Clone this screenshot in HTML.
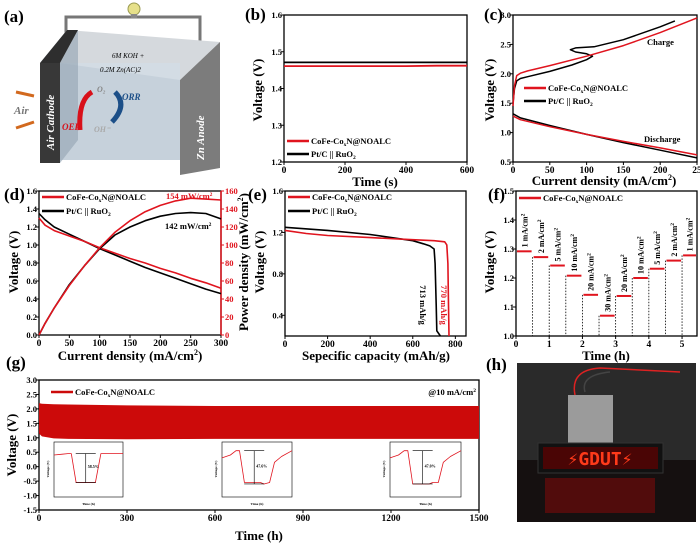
<!DOCTYPE html>
<html><head><meta charset="utf-8"><style>
html,body{margin:0;padding:0;background:#fff;}
svg{display:block;font-family:"Liberation Serif",serif;font-weight:bold;}
</style></head><body>
<svg id="fig" width="700" height="545" viewBox="0 0 700 545" xmlns="http://www.w3.org/2000/svg">
<g id="panelA">
  <text x="4" y="22" font-size="17">(a)</text>
  <polyline points="66,60 66,17 200,17 200,55" fill="none" stroke="#777" stroke-width="3"/>
  <circle cx="134" cy="9" r="6" fill="#e6e08a" stroke="#9a9a50"/>
  <rect x="131" y="14" width="6" height="4" fill="#888"/>
  <polygon points="40,63 67,30 220,42 180,80" fill="#d5d9dd"/>
  <rect x="60" y="63" width="120" height="97" fill="#d3dce4"/>
  <polygon points="60,63 180,80 180,160 60,160" fill="#c6d1db"/>
  <polygon points="40,63 67,30 78,30 60,63" fill="#2e2e2e"/>
  <polygon points="60,63 78,30 78,140 60,163" fill="#9aaab8" opacity="0.7"/>
  <rect x="40" y="63" width="20" height="100" fill="#383838"/>
  <text transform="translate(54,150) rotate(-90)" font-size="11" fill="#fff" font-style="italic">Air Cathode</text>
  <polygon points="180,80 220,42 220,168 180,175" fill="#7c7c7c"/>
  <text transform="translate(204,160) rotate(-90)" font-size="11" fill="#fff" font-style="italic">Zn Anode</text>
  <text x="112" y="58" font-size="7" font-style="italic" font-weight="normal">6M KOH +</text>
  <text x="100" y="72" font-size="7" font-style="italic" font-weight="normal">0.2M Zn(AC)2</text>
  <text x="14" y="114" font-size="11" fill="#777" font-style="italic">Air</text>
  <path d="M16,92 L34,96" stroke="#d2691e" stroke-width="3"/>
  <path d="M16,128 L34,122" stroke="#d2691e" stroke-width="3"/>
  <path d="M80,130 Q78,100 92,92" fill="none" stroke="#d8101a" stroke-width="5"/>
  <path d="M115,92 Q128,105 112,122" fill="none" stroke="#1c4f88" stroke-width="5"/>
  <text x="62" y="130" font-size="9" fill="#d8101a" font-style="italic">OER</text>
  <text x="122" y="100" font-size="9" fill="#1c4f88" font-style="italic">ORR</text>
  <text x="97" y="92" font-size="8" fill="#888" font-style="italic">O₂</text>
  <text x="94" y="132" font-size="8" fill="#aaa" font-style="italic">OH⁻</text>
</g>
<g id="plots"></g>
</svg>
<script>
// ---------- data ----------
const bTime=[0,100,200,300,400,500,600];
const bRed=[1.461,1.461,1.461,1.461,1.461,1.462,1.462];
const bBlack=[1.471,1.471,1.471,1.471,1.471,1.471,1.471];
const cChargeRedX=[0,2,5,10,20,50,100,150,200,250];
const cChargeRedY=[1.45,1.8,1.97,2.01,2.05,2.14,2.3,2.48,2.7,2.95];
const cChargeBlackX=[0,2,5,10,20,50,80,100,108,100,85,78,85,110,150,200,220];
const cChargeBlackY=[1.5,1.75,1.88,1.92,1.95,2.04,2.15,2.24,2.3,2.34,2.37,2.41,2.44,2.46,2.58,2.8,2.9];
const cDisRedX=[0,10,50,100,150,200,250];
const cDisRedY=[1.28,1.22,1.1,0.97,0.85,0.74,0.62];
const cDisBlackX=[0,10,50,100,150,200,250];
const cDisBlackY=[1.32,1.25,1.12,0.97,0.83,0.7,0.57];
const dX=[0,10,25,50,75,100,125,150,175,200,225,250,275,300];
const dVRed=[1.3,1.22,1.16,1.1,1.04,0.97,0.91,0.85,0.8,0.74,0.69,0.63,0.58,0.52];
const dVBlack=[1.35,1.28,1.2,1.12,1.04,0.96,0.89,0.82,0.75,0.69,0.63,0.57,0.51,0.46];
const dPRed=[0,13,30,55,77,97,114,127,137,144,149,152,151,150];
const dPBlack=[0,13,30,56,77,96,111,120,127,132,135,136,135,129];
const eRedX=[0,100,200,400,600,700,750,760,765,768,770];
const eRedY=[1.22,1.19,1.17,1.15,1.13,1.12,1.11,1.08,0.9,0.5,0.2];
const eBlackX=[0,200,400,600,650,680,700,705,710,713,730];
const eBlackY=[1.25,1.22,1.18,1.12,1.09,1.07,1.04,0.9,0.5,0.25,0.2];
const fStart=[0,0.5,1,1.5,2,2.5,3,3.5,4,4.5,5];
const fVolt=[1.292,1.272,1.243,1.208,1.142,1.07,1.138,1.2,1.232,1.26,1.278];
const fLabels=["1 mA/cm²","2 mA/cm²","5 mA/cm²","10 mA/cm²","20 mA/cm²","30 mA/cm²","20 mA/cm²","10 mA/cm²","5 mA/cm²","2 mA/cm²","1 mA/cm²"];
const gTime=[0,10,50,100,300,600,900,1200,1500];
const gUpper=[2.2,2.18,2.16,2.15,2.12,2.1,2.1,2.1,2.1];
const gLower=[1.15,1.05,0.98,0.96,0.95,0.96,0.96,0.96,0.96];
const insetX=[0,0.12,0.2,0.25,0.32,0.55,0.6,0.68,0.75,0.85,1];
const inset1Y=[1.95,1.98,2.0,2.0,1.0,1.0,1.0,2.0,2.0,2.0,2.0];
const inset2Y=[1.85,1.95,2.1,2.1,1.0,1.0,0.95,1.0,1.7,1.9,2.1];
const inset3Y=[1.85,1.95,2.1,2.1,0.95,0.95,1.0,1.0,1.7,1.9,2.1];
const insetPct=["58.5%","47.6%","47.0%"];

// ---------- helpers ----------
const NS="http://www.w3.org/2000/svg";
const root=document.getElementById('plots');
function el(tag,attrs,parent){const e=document.createElementNS(NS,tag);for(const k in attrs)e.setAttribute(k,attrs[k]);(parent||root).appendChild(e);return e;}
function sc(v,d0,d1,r0,r1){return r0+(v-d0)/(d1-d0)*(r1-r0);}
function txt(x,y,s,size,opts,parent){const t=el('text',Object.assign({x:x,y:y,'font-size':size},opts||{}),parent);t.textContent=s;return t;}
function frame(P,xt,xl,yt,yl,tsize){
  const f=el('rect',{x:P.x0,y:P.y0,width:P.x1-P.x0,height:P.y1-P.y0,fill:'none',stroke:'#000','stroke-width':1.3});
  
  
  xt.forEach((v,i)=>{const x=sc(v,P.xa,P.xb,P.x0,P.x1);
    const tk=el('line',{x1:x,x2:x,y1:P.y1,y2:P.y1+3,stroke:'#000'});
    
    
    const t=txt(x,P.y1+11,xl[i],tsize||9.5,{'text-anchor':'middle'});
    
    });
  yt.forEach((v,i)=>{const y=sc(v,P.ya,P.yb,P.y1,P.y0);
    const tk=el('line',{x1:P.x0-3,x2:P.x0,y1:y,y2:y,stroke:'#000'});
    
    
    const t=txt(P.x0-2,y+3,yl[i],tsize||8.5,{'text-anchor':'end'});
    
    });
}
function line(P,xs,ys,color,w,name,yb){
  const pts=xs.map((v,i)=>sc(v,P.xa,P.xb,P.x0,P.x1).toFixed(1)+','+sc(ys[i],P.ya,yb!==undefined?yb:P.yb,P.y1,P.y0).toFixed(1)).join(' ');
  const l=el('polyline',{points:pts,fill:'none',stroke:color,'stroke-width':w||1.6,'stroke-linejoin':'round'});
  
  
  return l;
}
function legend(x,y,color,label,name){
  const l=el('line',{x1:x,x2:x+22,y1:y,y2:y,stroke:color,'stroke-width':2.5});
  
  
  const t=el('text',{x:x+24,y:y+3,'font-size':8.5});
  
  
  t.innerHTML=label;
}
const CO='CoFe-Co<tspan font-size="5.5" dy="2">x</tspan><tspan dy="-2">N@NOALC</tspan>';
const PT='Pt/C || RuO<tspan font-size="5.5" dy="2">2</tspan>';
function plabel(x,y,s,name){const t=txt(x,y,s,17,{});}
function ylab(x,y,s,size,color,name){const t=el('text',{transform:'translate('+x+','+y+') rotate(-90)','font-size':size,'text-anchor':'middle',fill:color||'#000'});t.innerHTML=s;}
function xlab(x,y,s,size,name){const t=el('text',{x:x,y:y,'font-size':size,'text-anchor':'middle'});t.innerHTML=s;}
const RED='#e0141e';

// ---------- panel b ----------
const Pb={n:'b',x0:284,x1:467,y0:15,y1:162,xa:0,xb:600,ya:1.2,yb:1.6};
frame(Pb,[0,200,400,600],['0','200','400','600'],[1.2,1.3,1.4,1.5,1.6],['1.2','1.3','1.4','1.5','1.6']);
line(Pb,bTime,bBlack,'#000',1.8,'b-pt-ruo2-line');
line(Pb,bTime,bRed,RED,1.8,'b-cofe-line');
legend(287,141,RED,CO,'b-legend-cofe');legend(287,154,'#000',PT,'b-legend-pt');
plabel(245,20,'(b)','panel-b-label');ylab(262,90,'Voltage (V)',13,null,'b-y-axis-title');xlab(375,186,'Time (s)',13,'b-x-axis-title');

// ---------- panel c ----------
const Pc={n:'c',x0:513,x1:697,y0:15,y1:162,xa:0,xb:250,ya:0.5,yb:3.0};
frame(Pc,[0,50,100,150,200,250],['0','50','100','150','200','25'],[0.5,1.0,1.5,2.0,2.5,3.0],['0.5','1.0','1.5','2.0','2.5','3.0']);
line(Pc,cChargeBlackX,cChargeBlackY,'#000',1.5,'c-charge-pt-line');
line(Pc,cDisBlackX,cDisBlackY,'#000',1.5,'c-discharge-pt-line');
line(Pc,cChargeRedX,cChargeRedY,RED,1.5,'c-charge-cofe-line');
line(Pc,cDisRedX,cDisRedY,RED,1.5,'c-discharge-cofe-line');
legend(524,88,RED,CO,'c-legend-cofe');legend(524,101,'#000',PT,'c-legend-pt');
txt(647,45,'Charge',8.5,{});
txt(644,142,'Discharge',8.5,{});
plabel(484,20,'(c)','panel-c-label');ylab(494,90,'Voltage (V)',13,null,'c-y-axis-title');xlab(604,185,'Current density (mA/cm<tspan font-size="8" dy="-5">2</tspan><tspan dy="5">)</tspan>',13,'c-x-axis-title');

// ---------- panel d ----------
const Pd={n:'d',x0:39,x1:221,y0:191,y1:335,xa:0,xb:300,ya:0,yb:1.6};
frame(Pd,[0,50,100,150,200,250,300],['0','50','100','150','200','250','300'],[0,0.2,0.4,0.6,0.8,1.0,1.2,1.4,1.6],['0.0','0.2','0.4','0.6','0.8','1.0','1.2','1.4','1.6']);
[0,20,40,60,80,100,120,140,160].forEach(v=>{const y=sc(v,0,160,Pd.y1,Pd.y0);
  const tk=el('line',{x1:Pd.x1,x2:Pd.x1+3,y1:y,y2:y,stroke:RED});
  
  
  const t=txt(Pd.x1+4,y+3,String(v),8.5,{fill:RED});
  
  });
el('line',{x1:Pd.x1,x2:Pd.x1,y1:Pd.y0,y2:Pd.y1,stroke:RED,'stroke-width':1.5});
line(Pd,dX,dVBlack,'#000',1.6,'d-voltage-pt-line');
line(Pd,dX,dVRed,RED,1.6,'d-voltage-cofe-line');
line(Pd,dX,dPBlack,'#000',1.6,'d-power-pt-line',160);
line(Pd,dX,dPRed,RED,1.6,'d-power-cofe-line',160);
legend(42,197,RED,CO,'d-legend-cofe');legend(42,211,'#000',PT,'d-legend-pt');
const d1=el('text',{x:166,y:199,'font-size':8.5,fill:RED});d1.innerHTML='154 mW/cm<tspan font-size="5.5" dy="-3">2</tspan>';


const d2=el('text',{x:165,y:229,'font-size':8.5});d2.innerHTML='142 mW/cm<tspan font-size="5.5" dy="-3">2</tspan>';


plabel(4,200,'(d)','panel-d-label');ylab(18,262,'Voltage (V)',13,null,'d-y-axis-title');
ylab(248,262,'Power density (mW/cm<tspan font-size="8" dy="-5">2</tspan><tspan dy="5">)</tspan>',13,'#000','d-y2-axis-title');
xlab(130,360,'Current density (mA/cm<tspan font-size="8" dy="-5">2</tspan><tspan dy="5">)</tspan>',13,'d-x-axis-title');

// ---------- panel e ----------
const Pe={n:'e',x0:285,x1:466,y0:191,y1:336,xa:0,xb:850,ya:0.2,yb:1.6};
frame(Pe,[0,200,400,600,800],['0','200','400','600','800'],[0.4,0.8,1.2,1.6],['0.4','0.8','1.2','1.6']);
line(Pe,eBlackX,eBlackY,'#000',1.6,'e-pt-line');
line(Pe,eRedX,eRedY,RED,1.6,'e-cofe-line');
legend(288,197,RED,CO,'e-legend-cofe');legend(288,211,'#000',PT,'e-legend-pt');
const e1=el('text',{transform:'translate(420,305) rotate(90)','font-size':8.5,'text-anchor':'middle'});e1.textContent='713 mAh/g';


const e2=el('text',{transform:'translate(441,305) rotate(90)','font-size':8.5,'text-anchor':'middle',fill:RED});e2.textContent='770 mAh/g';


plabel(248,200,'(e)','panel-e-label');ylab(264,262,'Voltage (V)',13,null,'e-y-axis-title');xlab(376,360,'Sepecific capacity (mAh/g)',13,'e-x-axis-title');

// ---------- panel f ----------
const Pf={n:'f',x0:516,x1:697,y0:191,y1:336,xa:0,xb:5.45,ya:1.0,yb:1.5};
frame(Pf,[0,1,2,3,4,5],['0','1','2','3','4','5'],[1.0,1.1,1.2,1.3,1.4,1.5],['1.0','1.1','1.2','1.3','1.4','1.5']);
fStart.forEach((s,i)=>{const e=Math.min(s+0.5,5.45);
  const x0=sc(s,Pf.xa,Pf.xb,Pf.x0,Pf.x1),x1=sc(e,Pf.xa,Pf.xb,Pf.x0,Pf.x1),y=sc(fVolt[i],Pf.ya,Pf.yb,Pf.y1,Pf.y0);
  const seg=el('line',{x1:x0+1,x2:x1-1,y1:y,y2:y,stroke:RED,'stroke-width':2});
  
  
  if(i>0){const d=el('line',{x1:x0,x2:x0,y1:y,y2:Pf.y1,stroke:'#000','stroke-dasharray':'1.5,1.5','stroke-width':0.8});
    
    }
  const t=el('text',{transform:'translate('+((x0+x1)/2+3)+','+(y-4)+') rotate(-90)','font-size':8});
  t.innerHTML=fLabels[i].replace('²','<tspan font-size="5.5" dy="-3">2</tspan>');
  
  });
legend(519,198,RED,CO,'f-legend-cofe');
plabel(488,200,'(f)','panel-f-label');ylab(494,262,'Voltage (V)',13,null,'f-y-axis-title');xlab(606,360,'Time (h)',13,'f-x-axis-title');

// ---------- panel g ----------
const Pg={n:'g',x0:39,x1:479,y0:380,y1:510,xa:0,xb:1500,ya:-1.5,yb:3.0};
frame(Pg,[0,300,600,900,1200,1500],['0','300','600','900','1200','1500'],[-1.5,-1,-0.5,0,0.5,1,1.5,2,2.5,3],['-1.5','-1.0','-0.5','0.0','0.5','1.0','1.5','2.0','2.5','3.0']);
const bandPts=gTime.map((v,i)=>sc(v,0,1500,Pg.x0,Pg.x1)+','+sc(gUpper[i],-1.5,3,Pg.y1,Pg.y0)).concat(gTime.slice().reverse().map((v,j)=>{const i=gTime.length-1-j;return sc(v,0,1500,Pg.x0,Pg.x1)+','+sc(gLower[i],-1.5,3,Pg.y1,Pg.y0);})).join(' ');
const band=el('polygon',{points:bandPts,fill:'#cc0a0a'});


legend(51,392,'#cc0a0a',CO,'g-legend-cofe');
const g1=el('text',{x:476,y:395,'font-size':8.5,'text-anchor':'end'});g1.innerHTML='@10 mA/cm<tspan font-size="5.5" dy="-3">2</tspan>';


const insets=[{x0:54,x1:123,y:442,Y:inset1Y},{x0:222,x1:292,y:442,Y:inset2Y},{x0:390,x1:461,y:442,Y:inset3Y}];
insets.forEach((I,k)=>{const P={n:'g-inset-'+k,x0:I.x0,x1:I.x1,y0:I.y,y1:I.y+55,xa:0,xb:1,ya:0.5,yb:2.4};
  const r=el('rect',{x:P.x0,y:P.y0,width:P.x1-P.x0,height:P.y1-P.y0,fill:'#fff',stroke:'#000','stroke-width':0.6});
  
  
  line(P,insetX,I.Y,RED,0.8,'g-inset-line-'+k);
  const xm=sc(0.46,0,1,P.x0,P.x1),ya=sc(Math.max(...I.Y),0.5,2.4,P.y1,P.y0),yb=sc(Math.min(...I.Y),0.5,2.4,P.y1,P.y0);
  const a=el('line',{x1:xm,x2:xm,y1:ya,y2:yb,stroke:'#000','stroke-width':0.6});
  
  
  el('line',{x1:xm-10,x2:xm+10,y1:ya,y2:ya,stroke:'#000','stroke-width':0.6});
  el('line',{x1:xm-10,x2:xm+10,y1:yb,y2:yb,stroke:'#000','stroke-width':0.6});
  const p=txt(xm+2,(ya+yb)/2,insetPct[k],4,{});
  
  
  const lt=txt((P.x0+P.x1)/2,P.y1+8,'Time (h)',3.5,{'text-anchor':'middle'});
  
  
  const yl=el('text',{transform:'translate('+(P.x0-5)+','+(P.y0+27)+') rotate(-90)','font-size':3.5,'text-anchor':'middle'});yl.textContent='Voltage (V)';
  
  });
plabel(6,368,'(g)','panel-g-label');ylab(16,445,'Voltage (V)',13,null,'g-y-axis-title');xlab(259,540,'Time (h)',13,'g-x-axis-title');

// ---------- panel h ----------
plabel(486,370,'(h)','panel-h-label');
const ph=el('rect',{x:517,y:363,width:179,height:159,fill:'#2a2a2a'});


el('rect',{x:517,y:460,width:179,height:62,fill:'#151010'});
const dev=el('rect',{x:568,y:395,width:45,height:50,fill:'#b8b8b8',opacity:0.8});


el('path',{d:'M575,395 Q570,370 600,368 L680,372',fill:'none',stroke:'#d22','stroke-width':1.5});
el('path',{d:'M585,392 Q580,375 610,372',fill:'none',stroke:'#444','stroke-width':1.5});
const led=el('rect',{x:538,y:443,width:125,height:30,fill:'#111',stroke:'#333'});


el('rect',{x:543,y:447,width:115,height:22,fill:'#4a0505'});
const lt=txt(600,465,'⚡GDUT⚡',18,{'text-anchor':'middle',fill:'#ff3a1a','font-family':'"DejaVu Sans Mono",monospace'});


el('rect',{x:545,y:478,width:110,height:35,fill:'#7a0a0a',opacity:0.6});
</script>
</body></html>
